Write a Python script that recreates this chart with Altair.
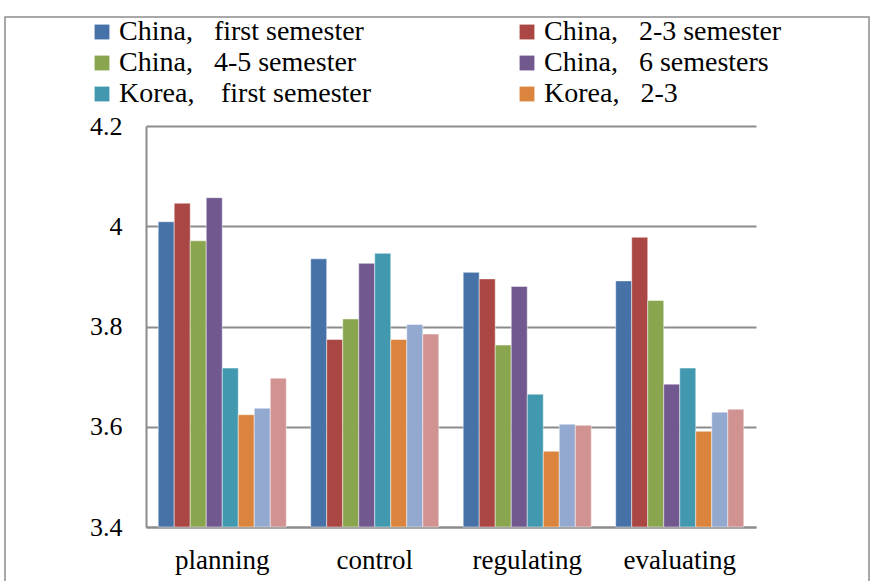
import altair as alt
import pandas as pd

GAP = "\u00a0\u00a0\u00a0"
categories = ["planning", "control", "regulating", "evaluating"]
series = [
    "China," + GAP + "first semester",
    "China," + GAP + "2-3 semester",
    "China," + GAP + "4-5 semester",
    "China," + GAP + "6 semesters",
    "Korea," + GAP + "\u2009first semester",
    "Korea," + GAP + "2-3",
    "Korea," + GAP + "4-5",
    "Korea," + GAP + "6 semesters",
]
colors = ["#4672A8", "#AA4643", "#89A54E", "#71588F", "#4198AF", "#DB843D", "#93A9CF", "#D19392"]

china_first = [4.009, 3.935, 3.908, 3.891]
china_23 = [4.046, 3.774, 3.895, 3.978]
china_45 = [3.971, 3.815, 3.763, 3.852]
china_6 = [4.057, 3.926, 3.880, 3.685]
korea_first = [3.717, 3.946, 3.665, 3.717]
korea_23 = [3.624, 3.774, 3.551, 3.591]
korea_45 = [3.637, 3.804, 3.605, 3.629]
korea_6 = [3.697, 3.785, 3.603, 3.635]

all_vals = [china_first, china_23, china_45, china_6, korea_first, korea_23, korea_45, korea_6]
rows = []
for s, vals in zip(series, all_vals):
    for c, v in zip(categories, vals):
        rows.append({"category": c, "series": s, "value": v})
df = pd.DataFrame(rows)

FONT = "Liberation Serif"

bars = alt.Chart(df).mark_bar(stroke="white", strokeWidth=0.8, strokeOpacity=0.6).encode(
    x=alt.X("category:N", sort=categories, title=None,
            scale=alt.Scale(paddingInner=0.16, paddingOuter=0.08),
            axis=alt.Axis(labelAngle=0, ticks=False, labelPadding=20, labelFontSize=27,
                          labelFont=FONT, labelColor="black", domainColor="#8c8c8c",
                          domainWidth=2, grid=False)),
    xOffset=alt.XOffset("series:N", sort=series, scale=alt.Scale(domain=series)),
    y=alt.Y("value:Q", title=None,
            scale=alt.Scale(domain=[3.4, 4.2], zero=False, nice=False),
            axis=alt.Axis(values=[3.4, 3.6, 3.8, 4.0, 4.2], format="~g", ticks=False,
                          labelPadding=24, labelFontSize=26, labelFont=FONT,
                          labelColor="black", domainColor="#8c8c8c", domainWidth=2,
                          gridColor="#8c8c8c", gridWidth=2)),
    y2=alt.datum(3.4),
    color=alt.Color("series:N", sort=series,
                    scale=alt.Scale(domain=series, range=colors),
                    legend=alt.Legend(values=series[:6], orient="none", legendX=-58, legendY=-108,
                                      direction="horizontal", columns=2, columnPadding=141,
                                      rowPadding=3, padding=0, title=None,
                                      symbolType="square", symbolSize=220, symbolStrokeWidth=0,
                                      symbolOffset=0,
                                      labelFont=FONT, labelFontSize=28, labelColor="black",
                                      labelOffset=3, labelLimit=400)),
)

frame = alt.Chart(alt.Data(values=[{"a": 1}])).mark_rect(
    fill=None, stroke="#8c8c8c", strokeWidth=1.5
).encode(
    x=alt.value(-141), x2=alt.value(723), y=alt.value(-109), y2=alt.value(500)
)

chart = alt.layer(frame, bars).properties(
    width=610, height=401,
    autosize=alt.AutoSizeParams(type="none"),
    padding={"left": 146, "top": 126, "right": 116, "bottom": 54},
).configure_view(stroke=None)

chart.save("out.html", embed_options={"renderer": "svg", "actions": False})
